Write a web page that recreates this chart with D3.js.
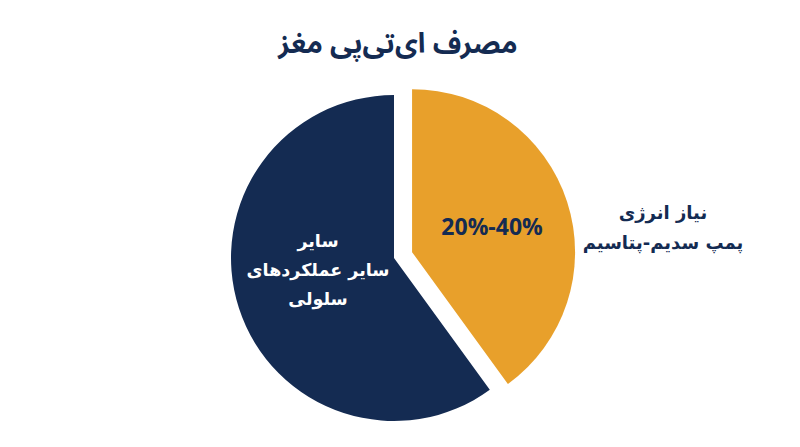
<!DOCTYPE html>
<html>
  <head>
    <meta charset="UTF-8">
    <title>مصرف ای‌تی‌پی مغز</title>
    <style>
      body { margin: 0; background: #fff; }
      svg text { font-family: "Noto Sans Arabic", "DejaVu Sans", sans-serif; }
      svg text.multi { font-family: "DejaVu Sans", sans-serif; }
    </style>
  </head>
  <body>
<svg width="800" height="447"></svg>
<script src="https://d3js.org/d3.v7.min.js"></script>
<script>

var title = "مصرف ای‌تی‌پی مغز";
var categories = ["pump", "other"];
var values = [40, 60];
var sliceLabels = ["20%-40%", ["سایر", "سایر عملکردهای", "سلولی"]];
var outerLabel = ["نیاز انرژی", "پمپ سدیم-پتاسیم"];
var colors = ["#e8a02b", "#142b52"];

var svg = d3.select("svg"),
    cx = 394, cy = 258, radius = 163, explode = 19;

svg.append("text")
    .attr("x", 398)
    .attr("y", 53)
    .attr("text-anchor", "middle")
    .attr("font-size", 28)
    .attr("font-weight", "bold")
    .attr("fill", "#142b52")
    .text(title);

var pie = d3.pie().sort(null)(values);
var arc = d3.arc().innerRadius(0).outerRadius(radius);

var g = svg.append("g")
    .attr("transform", "translate(" + cx + "," + cy + ")");

var slices = g.selectAll(".slice")
  .data(pie)
  .enter().append("g")
    .attr("class", "slice")
    .attr("transform", function(d, i) {
      if (i != 0) return null;
      var a = (d.startAngle + d.endAngle) / 2;
      return "translate(" + (Math.sin(a) * explode) + "," + (-Math.cos(a) * explode) + ")";
    });

slices.append("path")
    .attr("d", arc)
    .attr("fill", function(d, i) { return colors[i]; });

// label inside the orange slice
slices.filter(function(d, i) { return i == 0; })
  .append("text")
    .attr("x", 80)
    .attr("y", -17)
    .attr("text-anchor", "middle")
    .attr("font-size", 23)
    .attr("font-weight", "bold")
    .attr("fill", "#142b52")
    .text(sliceLabels[0]);

// white label inside the navy slice
var t = slices.filter(function(d, i) { return i == 1; })
  .append("text")
    .attr("class", "multi")
    .attr("text-anchor", "middle")
    .attr("font-size", 17.5)
    .attr("font-weight", "bold")
    .attr("fill", "#fff");
t.selectAll("tspan")
  .data(sliceLabels[1])
  .enter().append("tspan")
    .attr("x", -76)
    .attr("y", function(d, i) { return -11 + i * 29; })
    .text(function(d) { return d; });

var o = svg.append("text")
    .attr("class", "multi")
    .attr("text-anchor", "middle")
    .attr("font-size", 18)
    .attr("font-weight", "bold")
    .attr("fill", "#142b52");
o.selectAll("tspan")
  .data(outerLabel)
  .enter().append("tspan")
    .attr("x", 663)
    .attr("y", function(d, i) { return 219 + i * 30; })
    .text(function(d) { return d; });

</script>
  </body>
</html>
